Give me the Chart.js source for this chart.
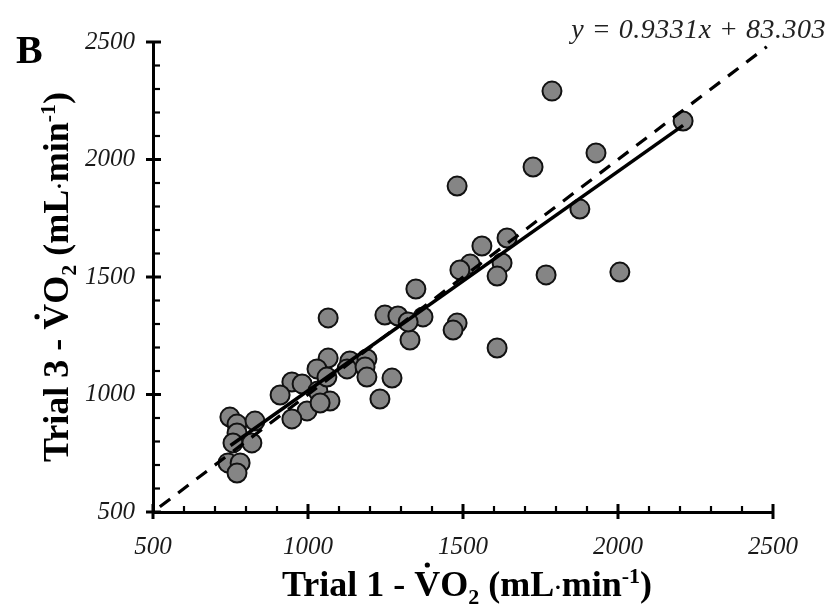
<!DOCTYPE html>
<html>
<head>
<meta charset="utf-8">
<script src="https://cdn.jsdelivr.net/npm/chart.js@4.4.1/dist/chart.umd.min.js"></script>
<style>
  html, body { margin: 0; padding: 0; background: #fff; }
  canvas { display: block; }
</style>
</head>
<body>
<canvas id="c" width="827" height="609"></canvas>
<script>
// ---- data ----
const trial1 = [2210,1787,1726,1929,1481,1877,2006,1768,1642,1561,1626,1610,1523,1490,1610,1481,1468,1348,1248,1290,1371,1329,1323,1065,1065,1135,1190,1029,1126,1184,1190,1271,948,981,1032,1061,910,1071,1232,997,1039,948,748,771,829,771,758,819,742,781,771];
const trial3 = [2164,2291,1968,2028,1887,1789,1521,1509,1666,1632,1560,1504,1555,1530,1198,1304,1274,1449,1338,1334,1330,1232,1309,1326,1155,1143,1151,1109,1109,1117,1074,1070,1053,1045,1015,1074,998,972,981,930,964,896,904,874,887,836,794,794,709,709,666];
const fitX = [750, 2210];
const fitY = [783, 2145];
const identityX = [522, 2480];
const identityY = [522, 2480];
const tickValues = [500, 1000, 1500, 2000, 2500];
const panelLabel = 'B';
const equationText = 'y = 0.9331x + 83.303';

const points = trial1.map((x, i) => ({ x: x, y: trial3[i] }));
const fitLine = fitX.map((x, i) => ({ x: x, y: fitY[i] }));
const idLine = identityX.map((x, i) => ({ x: x, y: identityY[i] }));

const SERIF = '"Liberation Serif", "Times New Roman", serif';

function drawRich(ctx, segs, x, y, align) {
  const big = 'bold 36px ' + SERIF;
  const small = 'bold 22px ' + SERIF;
  let total = 0;
  const widths = segs.map(s => {
    ctx.font = (s.sub || s.sup || s.mid) ? small : big;
    const w = ctx.measureText(s.t).width;
    total += w;
    return w;
  });
  let cx = align === 'center' ? x - total / 2 : x;
  segs.forEach((s, i) => {
    ctx.font = (s.sub || s.sup || s.mid) ? small : big;
    let dy = 0;
    if (s.sub) dy = 8;
    if (s.sup) dy = -13;
    if (s.mid) dy = -2;
    ctx.fillText(s.t, cx, y + dy);
    if (s.dot) {
      ctx.beginPath();
      ctx.arc(cx + widths[i] / 2, y - 31, 2.6, 0, Math.PI * 2);
      ctx.fill();
    }
    cx += widths[i];
  });
}

function titleSegs(n) {
  return [
    { t: 'Trial ' + n + ' - ' },
    { t: 'V', dot: true },
    { t: 'O' },
    { t: '2', sub: true },
    { t: ' (mL' },
    { t: '\u00B7', mid: true },
    { t: 'min' },
    { t: '-1', sup: true },
    { t: ')' }
  ];
}

const decor = {
  id: 'decor',
  afterDatasetsDraw(chart) {
    const ctx = chart.ctx;
    const xs = chart.scales.x, ys = chart.scales.y;
    const left = chart.chartArea.left, bottom = chart.chartArea.bottom;
    ctx.save();
    ctx.strokeStyle = '#000';
    ctx.lineCap = 'butt';
    for (let v = 500; v <= 2500; v += 100) {
      const major = tickValues.includes(v);
      const py = ys.getPixelForValue(v);
      ctx.lineWidth = major ? 3 : 2.2;
      ctx.beginPath();
      if (major) { ctx.moveTo(left - 7, py); ctx.lineTo(left + 8, py); }
      else { ctx.moveTo(left, py); ctx.lineTo(left + 7, py); }
      ctx.stroke();
      const px = xs.getPixelForValue(v);
      ctx.beginPath();
      if (major) { ctx.moveTo(px, bottom + 7); ctx.lineTo(px, bottom - 8); }
      else { ctx.moveTo(px, bottom); ctx.lineTo(px, bottom - 6); }
      ctx.stroke();
    }
    ctx.fillStyle = '#000';
    ctx.font = 'bold 40px ' + SERIF;
    ctx.textAlign = 'left';
    ctx.textBaseline = 'alphabetic';
    ctx.fillText(panelLabel, 16, 63);
    ctx.font = 'italic 28px ' + SERIF;
    ctx.fillStyle = '#222';
    ctx.textAlign = 'right';
    try { ctx.letterSpacing = '0.5px'; } catch (e) {}
    ctx.fillText(equationText, 826, 38);
    try { ctx.letterSpacing = '0px'; } catch (e) {}
    ctx.fillStyle = '#000';
    ctx.textAlign = 'left';
    drawRich(ctx, titleSegs(1), (left + chart.chartArea.right) / 2 + 4, 596, 'center');
    ctx.save();
    ctx.translate(68, (chart.chartArea.top + bottom) / 2);
    ctx.rotate(-Math.PI / 2);
    drawRich(ctx, titleSegs(3), 0, 0, 'center');
    ctx.restore();
    ctx.restore();
  }
};

const tickFont = { family: SERIF, style: 'italic', size: 25 };

new Chart(document.getElementById('c'), {
  type: 'scatter',
  data: {
    datasets: [
      {
        data: points,
        pointRadius: 9.5,
        pointHoverRadius: 9.5,
        backgroundColor: '#858585',
        borderColor: '#111',
        pointBorderWidth: 2,
        borderWidth: 2,
        order: 3
      },
      {
        data: idLine,
        showLine: true,
        pointRadius: 0,
        borderColor: '#000',
        borderWidth: 3.2,
        borderDash: [13, 10],
        order: 2
      },
      {
        data: fitLine,
        showLine: true,
        pointRadius: 0,
        borderColor: '#000',
        borderWidth: 3.5,
        order: 1
      }
    ]
  },
  options: {
    responsive: false,
    animation: false,
    events: [],
    layout: { padding: { top: 42, right: 54, left: 0, bottom: 0 } },
    plugins: { legend: { display: false }, tooltip: { enabled: false } },
    scales: {
      x: {
        type: 'linear', min: 500, max: 2500,
        grid: { display: false, drawTicks: false },
        border: { display: true, color: '#000', width: 3 },
        ticks: {
          stepSize: 100, autoSkip: false, maxRotation: 0,
          callback: v => (tickValues.includes(v) ? String(v) : ''),
          font: tickFont, color: '#1a1a1a', padding: 20
        },
        afterFit: s => { s.height = 97; }
      },
      y: {
        type: 'linear', min: 500, max: 2500,
        grid: { display: false, drawTicks: false },
        border: { display: true, color: '#000', width: 3 },
        ticks: {
          stepSize: 100, autoSkip: false,
          callback: v => (tickValues.includes(v) ? String(v) : ''),
          font: tickFont, color: '#1a1a1a', padding: 18
        },
        afterFit: s => { s.width = 153; }
      }
    }
  },
  plugins: [decor]
});
</script>
</body>
</html>
